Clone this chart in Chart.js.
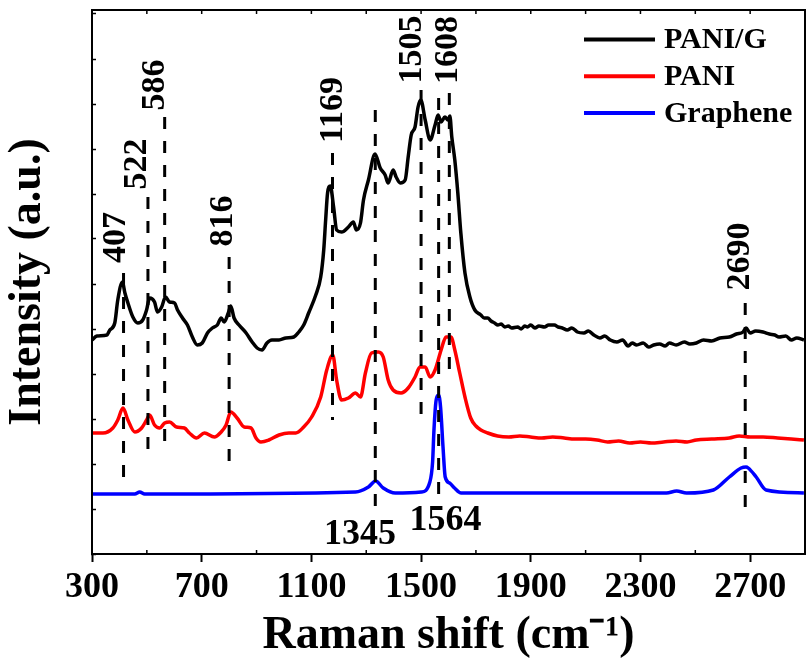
<!DOCTYPE html>
<html><head><meta charset="utf-8">
<script src="https://cdn.jsdelivr.net/npm/chart.js@4.4.0/dist/chart.umd.min.js"></script>
<style>html,body{margin:0;padding:0;background:#fff}#wrap{width:809px;height:661px;position:relative}</style>
</head><body><div id="wrap"><canvas id="c"></canvas></div>
<script>
// ---- data ----
const xTicks = [300,700,1100,1500,1900,2300,2700];
const seriesNames = ['PANI/G','PANI','Graphene'];

const panigX = [300,318,354,365,383,394,411,420,431,449,467,485,499,510,528,539,554,568,583,601,612,630,648,666,684,702,721,739,757,771,782,797,806,818,836,862,884,902,920,938,956,982,1007,1036,1054,1072,1090,1116,1134,1145,1152,1159,1169,1181,1192,1210,1235,1253,1264,1279,1290,1308,1332,1351,1369,1380,1398,1409,1424,1442,1453,1464,1478,1489,1499,1515,1533,1551,1562,1573,1587,1598,1605,1612,1623,1634,1645,1660,1678,1696,1718,1730,1743,1755,1768,1780,1792,1805,1818,1830,1852,1865,1878,1888,1900,1915,1930,1950,1965,1986,2000,2015,2033,2050,2070,2094,2110,2130,2152,2170,2190,2214,2235,2255,2270,2286,2310,2330,2348,2370,2390,2406,2430,2460,2480,2504,2530,2560,2590,2624,2650,2674,2685,2700,2720,2747,2770,2790,2805,2830,2850,2870,2896];
const panigY = [214,218,219,224,231,254,272,261,251,237,231,234,244,256,252,242,247,257,252,251,244,236,229,217,209,211,221,226,229,236,232,241,248,236,229,221,212,206,204,211,214,214,216,217,222,229,241,259,277,304,334,361,368,347,324,322,327,332,324,331,354,374,400,386,379,371,384,377,371,374,397,419,427,447,454,434,414,429,439,432,437,434,438,417,394,361,321,281,257,244,239,236,236,233,231,229,230,227,228,226,227,225,228,227,229,226,228,227,229,229,227,226,224,226,222,221,223,219,216,218,214,212,214,208,211,209,211,207,209,210,208,211,209,212,210,211,214,213,216,217,220,222,226,221,223,222,220,219,217,218,214,216,214];

const paniX = [300,340,376,394,413,431,456,481,499,510,528,547,565,583,608,637,655,681,710,746,771,789,806,829,855,880,898,916,945,982,1018,1043,1072,1101,1134,1156,1178,1192,1210,1235,1261,1279,1297,1319,1344,1362,1380,1398,1427,1453,1478,1496,1515,1533,1551,1573,1591,1609,1623,1641,1660,1681,1700,1718,1743,1779,1820,1860,1899,1940,1980,2022,2060,2100,2142,2180,2220,2261,2300,2340,2384,2430,2470,2504,2560,2624,2660,2700,2747,2800,2850,2896];
const paniY = [121,121,126,134,146,134,122,126,134,139,129,126,131,132,127,126,121,116,121,117,122,129,142,136,127,126,116,112,114,119,121,121,127,137,157,184,199,174,154,156,161,157,181,201,202,197,174,164,161,166,177,187,187,177,184,204,217,217,204,181,157,136,128,124,121,118,117,118,117,116,117,116,115,115,114,112,113,111,112,111,112,113,112,114,115,116,118,117,117,116,115,114];

const grapheneX = [300,456,474,492,1261,1308,1334,1362,1406,1501,1532,1542,1547,1555,1564,1571,1580,1588,1604,1622,1646,2395,2432,2468,2566,2624,2667,2685,2693,2722,2758,2896];
const grapheneY = [60,60,62,60,62,67,73,66,61,62,72,92,124,154,159,147,107,77,71,66,61,61,63,61,64,77,86,87,86,77,64,61];

// peak marks (dashed lines) and their labels
const markLabels = ['407','522','586','816','1169','1345','1505','1564','1608','2690'];
const markX      = [415,504,565,800,1177,1333,1500,1564,1603,2682];
const markTop    = [281,357,437,297,401,444,464,456,461,251];
const markBottom = [76,97,104,91,134,37,129,51,174,47];
const labelX     = [389,465,532,780,1181,1277,1466,1589,1600,2664];
const labelY     = [316.5,390,469,333,444,19,504.5,33.5,504,297.5];
const labelRotated = [true,true,true,true,true,false,true,false,true,true];

// ---- styles ----
const FONT = '"Liberation Serif", "Times New Roman", serif';
const colors = ['#000000','#ff0000','#0000ff'];
const series = [[panigX,panigY],[paniX,paniY],[grapheneX,grapheneY]];

const annot = {
  id: 'annot',
  afterDatasetsDraw(chart) {
    const {ctx, chartArea: a, scales: {x, y}} = chart;
    ctx.save();
    ctx.strokeStyle = '#000';
    ctx.lineWidth = 2;
    ctx.strokeRect(a.left, a.top, a.right - a.left, a.bottom - a.top);
    ctx.lineWidth = 1.5;
    x.ticks.forEach(t => {
      const px = x.getPixelForValue(t.value);
      ctx.beginPath(); ctx.moveTo(px, a.top); ctx.lineTo(px, a.top + 4); ctx.stroke();
      if (!xTicks.includes(t.value)) {
        ctx.beginPath(); ctx.moveTo(px, a.bottom); ctx.lineTo(px, a.bottom - 4); ctx.stroke();
      }
    });
    ctx.fillStyle = '#000';
    ctx.textAlign = 'center';
    ctx.textBaseline = 'middle';
    markLabels.forEach((t, i) => {
      const px = x.getPixelForValue(labelX[i]);
      const py = y.getPixelForValue(labelY[i]);
      ctx.save();
      ctx.translate(px, py);
      if (labelRotated[i]) { ctx.rotate(-Math.PI / 2); ctx.font = 'bold 34px ' + FONT; }
      else { ctx.font = 'bold 36px ' + FONT; }
      ctx.fillText(t, 0, 0);
      ctx.restore();
    });
    // legend
    ctx.font = 'bold 30px ' + FONT;
    ctx.textAlign = 'left';
    seriesNames.forEach((n, i) => {
      const ly = a.top + 29.5 + i * 36.7;
      ctx.strokeStyle = colors[i];
      ctx.lineWidth = 4;
      ctx.beginPath(); ctx.moveTo(a.right - 221, ly); ctx.lineTo(a.right - 150, ly); ctx.stroke();
      ctx.fillStyle = '#000';
      ctx.fillText(n, a.right - 141, ly + 1);
    });
    ctx.restore();
  }
};

const datasets = [];
markX.forEach((v, i) => {
  datasets.push({
    data: [{x: v, y: markTop[i]}, {x: v, y: markBottom[i]}],
    borderColor: '#000', borderWidth: 3, borderDash: [12, 12], pointRadius: 0, fill: false
  });
});
series.forEach((s, k) => {
  datasets.push({
    label: seriesNames[k],
    data: s[0].map((v, i) => ({x: v, y: s[1][i]})),
    borderColor: colors[k], borderWidth: 3.5, pointRadius: 0, fill: false,
    cubicInterpolationMode: 'monotone', borderJoinStyle: 'round'
  });
});

new Chart(document.getElementById('c'), {
  type: 'line',
  data: {datasets},
  options: {
    responsive: true, maintainAspectRatio: false, animation: false,
    layout: {padding: {top: 10, right: 1, left: 0, bottom: 0}},
    plugins: {legend: {display: false}, tooltip: {enabled: false}},
    scales: {
      x: {
        type: 'linear', min: 300, max: 2900,
        afterBuildTicks: (s) => { const t = []; for (let v = 300; v <= 2900; v += 200) t.push({value: v}); s.ticks = t; },
        afterFit: (s) => { s.height = 107; },
        ticks: {
          autoSkip: false, maxRotation: 0, padding: 4, color: '#000',
          font: {family: FONT, size: 36, weight: 'bold'},
          callback: (v) => xTicks.includes(v) ? String(v) : ''
        },
        grid: {
          display: true, drawOnChartArea: false, drawTicks: true, tickLength: 8, tickWidth: 2,
          tickColor: (c) => (c.tick && xTicks.includes(c.tick.value)) ? '#000' : 'rgba(0,0,0,0)'
        },
        border: {display: true, color: '#000', width: 2},
        title: {
          display: true, text: 'Raman shift (cm\u207B\u00B9)', color: '#000',
          font: {family: FONT, size: 46, weight: 'bold', lineHeight: 1.1}, padding: {top: 0, bottom: 0}
        }
      },
      y: {
        type: 'linear', min: 0, max: 544,
        afterFit: (s) => { s.width = 92; },
        ticks: {display: false, stepSize: 45, includeBounds: false},
        grid: {display: true, drawOnChartArea: false, drawTicks: true, tickLength: -4, tickWidth: 1.5, tickColor: '#000'},
        border: {display: true, color: '#000', width: 2},
        title: {
          display: true, text: 'Intensity (a.u.)', color: '#000',
          font: {family: FONT, size: 46, weight: 'bold', lineHeight: 1.1}, padding: {top: 3, bottom: 0}
        }
      }
    }
  },
  plugins: [annot]
});
</script>
</body></html>
